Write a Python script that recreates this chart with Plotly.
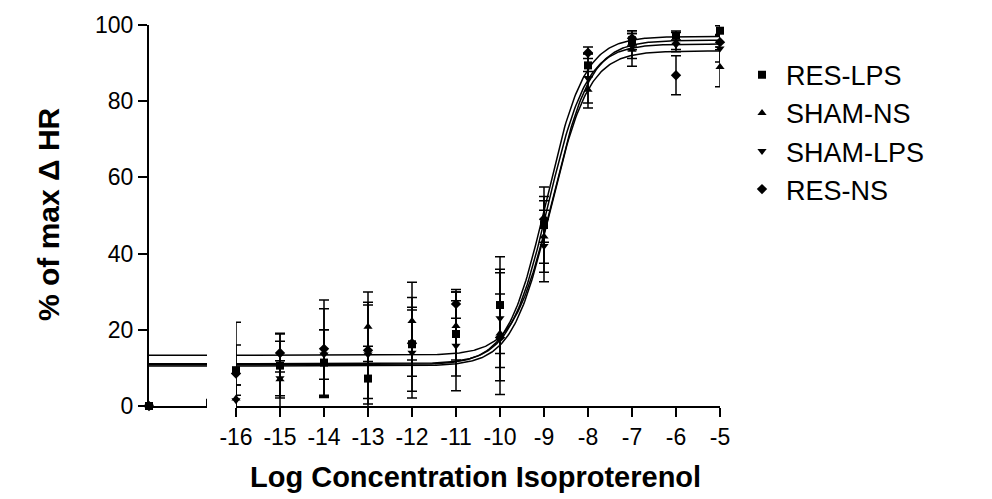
import numpy as np
import plotly.graph_objects as go

# ---------------- data ----------------
conc = [-16, -15, -14, -13, -12, -11, -10, -9, -8, -7, -6, -5]
x_ticks = conc
series_names = ["RES-LPS", "SHAM-NS", "SHAM-LPS", "RES-NS"]
symbols = ["square", "triangle-up", "triangle-down", "diamond"]
marker_sizes = [8, 8, 8, 8]

res_lps_mean = [9.4, 10.6, 11.4, 7.2, 16.2, 18.9, 26.5, 47.5, 89.4, 96.0, 97.2, 98.5]
res_lps_sem = [6.6, 8.5, 8.6, 8.5, 12.3, 11.0, 12.7, 10.0, 3.0, 2.5, 1.2, 1.3]
sham_ns_mean = [2.0, 7.0, 14.0, 20.8, 22.3, 21.0, 19.0, 44.5, 83.0, 93.5, 95.5, 89.0]
sham_ns_sem = [3.5, 10.0, 11.5, 9.1, 10.2, 8.9, 16.0, 9.4, 4.8, 4.3, 2.5, 5.2]
sham_lps_mean = [1.5, 7.3, 13.5, 13.5, 14.0, 15.8, 23.0, 42.0, 86.0, 94.5, 94.8, 93.8]
sham_lps_sem = [4.0, 4.6, 6.5, 13.0, 11.9, 11.8, 12.9, 9.4, 6.5, 3.3, 1.2, 3.5]
res_ns_mean = [8.5, 13.9, 15.0, 14.6, 16.5, 26.8, 18.0, 49.0, 92.7, 96.5, 86.8, 95.5]
res_ns_sem = [13.5, 5.0, 12.8, 12.6, 8.7, 3.8, 11.4, 6.0, 1.5, 2.0, 5.1, 2.0]

control_value = [0, 0, 0, 0]

# 4-parameter logistic fit parameters
fit_bottom = [10.8, 10.5, 11.1, 13.3]
fit_top = [97.0, 93.2, 95.0, 96.0]
fit_logec50 = [-8.95, -8.85, -8.9, -8.8]
fit_hill = [1.0, 1.0, 1.0, 1.0]

means = [res_lps_mean, sham_ns_mean, sham_lps_mean, res_ns_mean]
sems = [res_lps_sem, sham_ns_sem, sham_lps_sem, res_ns_sem]

# ---------------- layout geometry ----------------
W, H = 992, 499
L, R, T, B = 149, 720, 21, 406
pw = R - L
ph = B - T


def px(xp):
    return (xp - L) / pw


def py(yp):
    return (B - yp) / ph


FONT = "Liberation Sans, Arial, sans-serif"
fig = go.Figure()

xc = np.linspace(-16, -5, 400)
draw_order = [3, 2, 1, 0]
for i in draw_order:
    b, t, e, h = fit_bottom[i], fit_top[i], fit_logec50[i], fit_hill[i]
    yc = b + (t - b) / (1 + 10 ** ((e - xc) * h))
    fig.add_trace(go.Scatter(x=xc, y=yc, mode="lines", xaxis="x2", yaxis="y",
                             line=dict(color="black", width=1.5), showlegend=False,
                             hoverinfo="skip"))
    fig.add_trace(go.Scatter(x=[0, 1], y=[b, b], mode="lines", xaxis="x", yaxis="y",
                             line=dict(color="black", width=1.5), showlegend=False,
                             hoverinfo="skip"))

for i in draw_order:
    fig.add_trace(go.Scatter(
        x=conc, y=means[i], mode="markers", xaxis="x2", yaxis="y",
        name=series_names[i], legendgroup=series_names[i], legendrank=i + 1,
        marker=dict(symbol=symbols[i], size=marker_sizes[i], color="black"),
        error_y=dict(type="data", array=sems[i], visible=True, color="black",
                     thickness=1.5, width=5),
        cliponaxis=False))
    fig.add_trace(go.Scatter(
        x=[0], y=[control_value[i]], mode="markers", xaxis="x", yaxis="y",
        legendgroup=series_names[i], showlegend=False,
        marker=dict(symbol=symbols[i], size=marker_sizes[i], color="black"),
        cliponaxis=False))

# end cap of left axis segment
fig.add_shape(type="line", xref="x", yref="y", x0=1, x1=1, y0=-1.9, y1=1.9,
              line=dict(color="black", width=2))

axis_common = dict(showgrid=False, zeroline=False, showline=True, linecolor="black",
                   linewidth=2, ticks="outside", ticklen=9, tickwidth=2,
                   tickcolor="black", tickfont=dict(family=FONT, size=23, color="black"))

fig.update_layout(
    width=W, height=H,
    margin=dict(l=L, r=W - R, t=T, b=H - B, pad=0),
    paper_bgcolor="white", plot_bgcolor="white",
    xaxis=dict(domain=[0, (207 - L) / pw], range=[0, 1], showticklabels=False,
               **{**axis_common, "ticks": ""}, anchor="y"),
    xaxis2=dict(domain=[(236 - L) / pw, 1], range=[-16, -5], tickmode="array",
                tickvals=x_ticks, ticktext=[str(v) for v in x_ticks], anchor="y",
                **axis_common),
    yaxis=dict(range=[0, 100], tickmode="array", tickvals=[0, 20, 40, 60, 80, 100],
               anchor="x", **axis_common),
    showlegend=True,
    legend=dict(x=px(738), y=py(47), xanchor="left", yanchor="top",
                font=dict(family=FONT, size=27, color="black"),
                traceorder="grouped", tracegroupgap=0, itemsizing="trace",
                itemwidth=38, bgcolor="rgba(0,0,0,0)"),
    annotations=[
        dict(text="<b>Log Concentration Isoproterenol</b>", xref="paper", yref="paper",
             x=px(475), y=py(478), xanchor="center", yanchor="middle", showarrow=False,
             font=dict(family=FONT, size=29, color="black")),
        dict(text="<b>% of max Δ HR</b>", xref="paper", yref="paper",
             x=px(48), y=py(212), xanchor="center", yanchor="middle", showarrow=False,
             textangle=-90, font=dict(family=FONT, size=30, color="black")),
    ],
)

fig.write_html("out.html")
